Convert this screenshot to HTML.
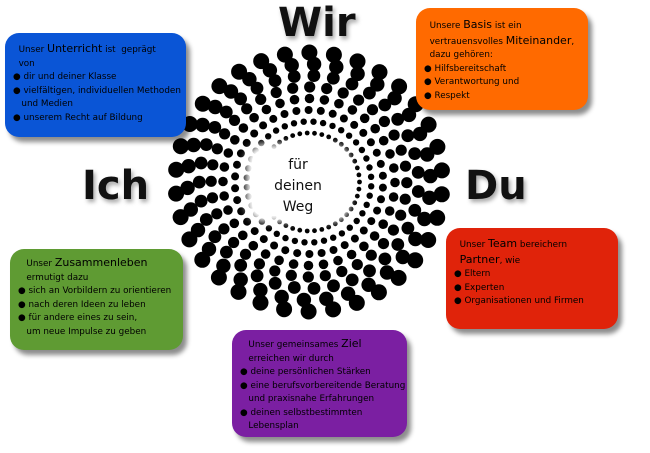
<!DOCTYPE html>
<html><head><meta charset="utf-8"><style>
body{margin:0;width:650px;height:453px;background:#fff;position:relative;overflow:hidden;font-family:"DejaVu Sans","Liberation Sans",sans-serif}
.box{position:absolute;border-radius:14px;box-shadow:4px 5px 5px rgba(0,0,0,.45);color:#000;font-size:8.8px;line-height:13.5px;box-sizing:border-box;padding:8px 8px}
.box b{font-weight:normal;font-size:11px}
.l{white-space:nowrap}
.big{position:absolute;font-weight:bold;font-size:40px;color:#111;text-shadow:2px 3px 4px rgba(0,0,0,.35);font-family:"DejaVu Sans",sans-serif}
#c{position:absolute;left:252px;top:150px;width:92px;height:66px;background:#fff;border-radius:12px;box-shadow:0 0 8px 6px #fff;text-align:center;font-size:14px;line-height:21px;padding-top:5px;box-sizing:border-box;color:#111}
</style></head><body>
<svg id="s" width="650" height="453" style="position:absolute;left:0;top:0"></svg>
<div id="c">für<br>deinen<br>Weg</div>
<div class="big" style="left:278px;top:0px">Wir</div>
<div class="big" style="left:82px;top:163px">Ich</div>
<div class="big" style="left:465px;top:163px">Du</div>

<div class="box" style="left:5px;top:33px;width:181px;height:104px;background:#0a55d6;padding-top:9px">
<div class="l">&nbsp;&nbsp;Unser <b>Unterricht</b> ist &nbsp;geprägt</div>
<div class="l">&nbsp;&nbsp;von</div>
<div class="l">● dir und deiner Klasse</div>
<div class="l">● vielfältigen, individuellen Methoden</div>
<div class="l">&nbsp;&nbsp;&nbsp;und Medien</div>
<div class="l">● unserem Recht auf Bildung</div>
</div>

<div class="box" style="left:416px;top:8px;width:172px;height:102px;background:#ff6a00;padding-top:10px">
<div class="l">&nbsp;&nbsp;Unsere <b>Basis</b> ist ein</div>
<div class="l">&nbsp;&nbsp;vertrauensvolles <b>Miteinander</b>,</div>
<div class="l">&nbsp;&nbsp;dazu gehören:</div>
<div class="l">● Hilfsbereitschaft</div>
<div class="l">● Verantwortung und</div>
<div class="l">● Respekt</div>
</div>

<div class="box" style="left:446px;top:228px;width:172px;height:101px;background:#e0230a;padding-top:9px">
<div class="l">&nbsp;&nbsp;Unser <b>Team</b> bereichern</div>
<div class="l">&nbsp;&nbsp;<b>Partner</b>, wie</div>
<div class="l">● Eltern</div>
<div class="l">● Experten</div>
<div class="l">● Organisationen und Firmen</div>
</div>

<div class="box" style="left:10px;top:249px;width:173px;height:101px;background:#5f9b33;padding-top:7px">
<div class="l">&nbsp;&nbsp;&nbsp;Unser <b>Zusammenleben</b></div>
<div class="l">&nbsp;&nbsp;&nbsp;ermutigt dazu</div>
<div class="l">● sich an Vorbildern zu orientieren</div>
<div class="l">● nach deren Ideen zu leben</div>
<div class="l">● für andere eines zu sein,</div>
<div class="l">&nbsp;&nbsp;&nbsp;um neue Impulse zu geben</div>
</div>

<div class="box" style="left:232px;top:330px;width:175px;height:107px;background:#7b1fa2;padding-top:7px">
<div class="l">&nbsp;&nbsp;&nbsp;Unser gemeinsames <b>Ziel</b></div>
<div class="l">&nbsp;&nbsp;&nbsp;erreichen wir durch</div>
<div class="l">● deine persönlichen Stärken</div>
<div class="l">● eine berufsvorbereitende Beratung</div>
<div class="l">&nbsp;&nbsp;&nbsp;und praxisnahe Erfahrungen</div>
<div class="l">● deinen selbstbestimmten</div>
<div class="l">&nbsp;&nbsp;&nbsp;Lebensplan</div>
</div>

<script>
var s=document.getElementById('s'),h='';
var cx=309,cy=182;
for(var i=0;i<8;i++){
 var R=49+i*11.5, r=2.4+i*0.8, off=i*0.7;
 var N=Math.round(2*Math.PI*R/(3.0*r));
 for(var k=0;k<N;k++){
  var a=off+k*2*Math.PI/N;
  var x=cx+R*Math.cos(a)*1.03, y=cy+R*Math.sin(a);
  h+='<circle cx="'+x.toFixed(1)+'" cy="'+y.toFixed(1)+'" r="'+r.toFixed(2)+'" fill="#000"/>';
 }
}
s.innerHTML=h;
</script>
</body></html>
